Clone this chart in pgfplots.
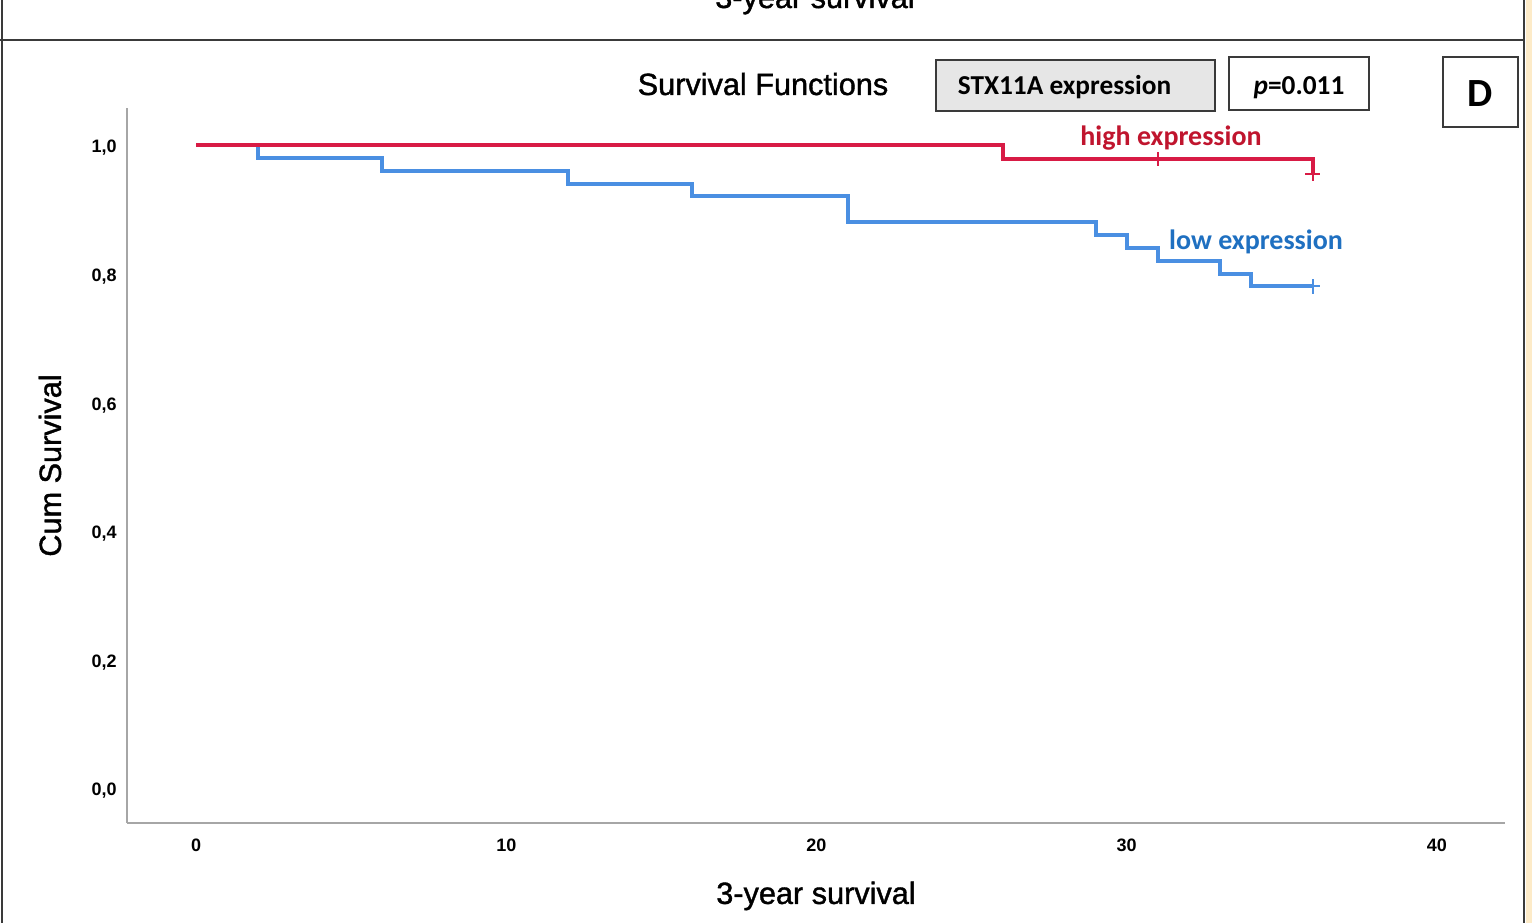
\documentclass[border=0pt]{standalone}
\usepackage{fontspec}
\setmainfont{Liberation Sans}
\newfontfamily\heavyfont[FakeBold=1.3]{Liberation Sans}
\newfontfamily\calfont{Carlito}
\usepackage{pgfplots}
\pgfplotsset{compat=1.18}

\definecolor{kmred}{HTML}{D81B45}
\definecolor{kmblue}{HTML}{4A8FE2}
\definecolor{redtext}{HTML}{C0152E}
\definecolor{bluetext}{HTML}{1F70C1}
\definecolor{axisgray}{HTML}{A6A6A6}
\definecolor{framegray}{HTML}{3A3A3A}
\definecolor{boxfill}{HTML}{E6E6E6}
\definecolor{sidebeige}{HTML}{FDEBC8}

\begin{document}
\begin{tikzpicture}[x=0.75pt,y=0.75pt]
  % page area, 1 unit = 1 px
  \useasboundingbox (0,0) rectangle (1532,923);
  \begin{scope}
  \clip (0,0) rectangle (1532,923);
  \fill[white] (0,0) rectangle (1532,923);
  \fill[sidebeige] (1526,0) rectangle (1532,923);
  \draw[framegray, line width=1.5pt] (2,0) -- (2,923);
  \draw[framegray, line width=1.5pt] (1524,0) -- (1524,923);
  \draw[framegray, line width=1.5pt] (0,883) -- (1524,883);
  % caption of the panel above, cut by the frame
  \node[anchor=base, font=\heavyfont\fontsize{23}{27}\selectfont] at (815,915) {3-year survival};
  \end{scope}

  \begin{axis}[
    at={(95.25pt,75pt)}, anchor=south west, scale only axis,
    width=1033.5pt, height=536.25pt,
    xmin=-2.23, xmax=42.2, ymin=-0.0544, ymax=1.0575,
    axis x line=bottom, axis y line=left,
    axis line style={-, draw=axisgray, line width=1.6pt},
    major tick length=0pt,
    xtick={0,10,20,30,40}, ytick={0,0.2,0.4,0.6,0.8,1},
    /pgf/number format/assume math mode=true,
    ticklabel style={font=\fontsize{13.5}{16}\selectfont\bfseries},
    xticklabel style={anchor=center, yshift=-16.5pt},
    yticklabel style={anchor=east, inner sep=0pt, xshift=-7.5pt, yshift=-2.25pt,
      /pgf/number format/fixed, /pgf/number format/fixed zerofill,
      /pgf/number format/precision=1, /pgf/number format/use comma},
    xlabel={3-year survival}, ylabel={Cum Survival},
    label style={font=\heavyfont\fontsize{23}{27}\selectfont},
    xlabel style={at={(axis description cs:0.5,-0.1021)}, anchor=center},
    ylabel style={at={(axis description cs:-0.0559,0.5)}, anchor=center},
    clip=false,
  ]
    % low expression group
    \addplot[const plot, kmblue, line width=3pt, line join=miter] coordinates {
      (0,1) (2,0.98) (6,0.96) (12,0.94) (16,0.92) (21,0.88)
      (29,0.86) (30,0.84) (31,0.82) (33,0.80) (34,0.78) (36,0.78)};
    % high expression group
    \addplot[const plot, kmred, line width=3pt, line join=miter] coordinates {
      (0,1) (26,0.978) (36,0.978) (36,0.955)};
    % censored cases
    \addplot[only marks, mark=+, mark size=5.5pt, kmblue, line width=1.5pt]
      coordinates {(36,0.78)};
    \addplot[only marks, mark=+, mark size=5.5pt, kmred, line width=1.5pt]
      coordinates {(31,0.978) (36,0.955)};
  \end{axis}

  % group labels
  \node[anchor=base, text=redtext, font=\calfont\bfseries\fontsize{21}{25}\selectfont] at (1171,777) {high expression};
  \node[anchor=base, text=bluetext, font=\calfont\bfseries\fontsize{21}{25}\selectfont] at (1256,673) {low expression};

  % header
  \node[anchor=base, font=\heavyfont\fontsize{23}{27}\selectfont] at (763,828) {Survival Functions};
  \draw[framegray, line width=1.5pt, fill=boxfill] (936,812) rectangle (1215,863);
  \node[anchor=base, font=\calfont\bfseries\fontsize{20.5}{24}\selectfont] at (1064.5,828) {STX11A expression};
  \draw[framegray, line width=1.5pt, fill=white] (1229,813) rectangle (1369,866);
  \node[anchor=base, font=\calfont\bfseries\fontsize{20.5}{24}\selectfont] at (1299,828) {\textit{p}=0.011};
  \draw[framegray, line width=1.5pt, fill=white] (1443,796) rectangle (1518,866);
  \node[anchor=base, font=\calfont\bfseries\fontsize{30}{34}\selectfont] at (1480.5,816) {D};
\end{tikzpicture}
\end{document}
